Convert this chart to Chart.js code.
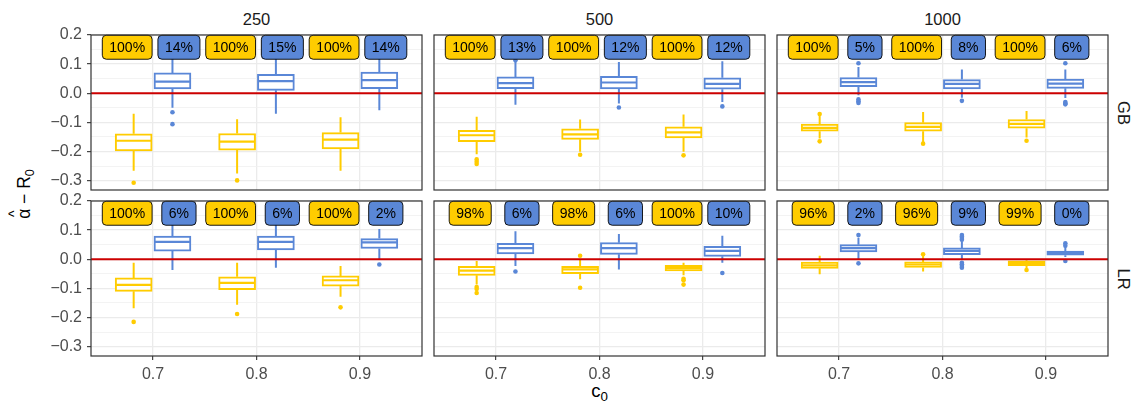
<!DOCTYPE html>
<html><head><meta charset="utf-8">
<script src="https://cdn.jsdelivr.net/npm/chart.js@4.4.1/dist/chart.umd.min.js"></script>
<style>
html,body{margin:0;padding:0;background:#fff;}
#wrap{position:relative;width:1136px;height:404px;overflow:hidden;font-family:"Liberation Sans",Arial,Helvetica,sans-serif;}
#wrap canvas{position:absolute;left:0;top:0;}
.txt{position:absolute;white-space:nowrap;line-height:1;}
.strip{font-size:16.5px;color:#1A1A1A;}
sub{font-size:0.72em;vertical-align:-0.3em;line-height:0;}
.hat{position:relative;display:inline-block;}
.caret{position:absolute;left:50%;top:-0.62em;transform:translateX(-50%);font-size:0.8em;}
</style></head><body>
<div id="wrap">
  <div class="txt strip" style="left:256.5px;top:11px;transform:translateX(-50%)">250</div>
  <div class="txt strip" style="left:599.5px;top:11px;transform:translateX(-50%)">500</div>
  <div class="txt strip" style="left:942.5px;top:11px;transform:translateX(-50%)">1000</div>
  <div class="txt strip" style="left:1124px;top:112.5px;transform:translate(-50%,-50%) rotate(90deg)">GB</div>
  <div class="txt strip" style="left:1124px;top:278.5px;transform:translate(-50%,-50%) rotate(90deg)">LR</div>
  <div class="txt" style="left:25px;top:194px;font-size:17.5px;color:#000;transform:translate(-50%,-50%) rotate(-90deg)"><span class="hat">&#945;<span class="caret">^</span></span> &#8722; R<sub>0</sub></div>
  <div class="txt" style="left:599.5px;top:382px;font-size:18.5px;color:#000;transform:translateX(-50%)">c<sub>0</sub></div>
</div>
<script>
// ---------------- data ----------------
const xCategories = ['0.7', '0.8', '0.9'];
const sampleSizes = ['250', '500', '1000'];
const methods = ['GB', 'LR'];
const yTickValues = [-0.3, -0.2, -0.1, 0.0, 0.1, 0.2];
const yTickLabels = ['\u22120.3', '\u22120.2', '\u22120.1', '0.0', '0.1', '0.2'];
const yMinorValues = [-0.25, -0.15, -0.05, 0.05, 0.15];
const referenceValue = 0;

// box stats per category: [lower whisker, Q1, median, Q3, upper whisker]
const gb250Gold = [[-0.266, -0.198, -0.163, -0.139, -0.070], [-0.275, -0.195, -0.166, -0.138, -0.089], [-0.266, -0.191, -0.159, -0.135, -0.082]];
const gb250GoldOut = [[-0.307], [-0.299], []];
const gb250Blue = [[-0.050, 0.015, 0.040, 0.070, 0.130], [-0.070, 0.010, 0.042, 0.065, 0.130], [-0.058, 0.016, 0.045, 0.073, 0.130]];
const gb250BlueOut = [[-0.065, -0.106], [], []];
const gb250Pct = [['100%', '14%'], ['100%', '15%'], ['100%', '14%']];

const gb500Gold = [[-0.209, -0.166, -0.144, -0.127, -0.081], [-0.201, -0.158, -0.141, -0.122, -0.090], [-0.201, -0.153, -0.134, -0.115, -0.073]];
const gb500GoldOut = [[-0.227, -0.235, -0.243], [-0.211], [-0.213]];
const gb500Blue = [[-0.039, 0.016, 0.035, 0.056, 0.107], [-0.035, 0.015, 0.037, 0.058, 0.107], [-0.030, 0.014, 0.032, 0.053, 0.110]];
const gb500BlueOut = [[0.113], [-0.049], [-0.045]];
const gb500Pct = [['100%', '13%'], ['100%', '12%'], ['100%', '12%']];

const gb1000Gold = [[-0.155, -0.130, -0.119, -0.106, -0.075], [-0.167, -0.130, -0.115, -0.101, -0.064], [-0.152, -0.120, -0.105, -0.090, -0.061]];
const gb1000GoldOut = [[-0.071, -0.165], [-0.173], [-0.163]];
const gb1000Blue = [[-0.007, 0.023, 0.038, 0.054, 0.090], [-0.015, 0.015, 0.032, 0.047, 0.082], [-0.016, 0.017, 0.033, 0.049, 0.082]];
const gb1000BlueOut = [[0.103, -0.021, -0.027, -0.033], [-0.026], [0.103, -0.030, -0.034, -0.038]];
const gb1000Pct = [['100%', '5%'], ['100%', '8%'], ['100%', '6%']];

const lr250Gold = [[-0.168, -0.110, -0.088, -0.064, -0.012], [-0.156, -0.104, -0.081, -0.060, -0.012], [-0.129, -0.092, -0.072, -0.057, -0.023]];
const lr250GoldOut = [[-0.215], [-0.188], [-0.165]];
const lr250Blue = [[-0.037, 0.028, 0.060, 0.080, 0.130], [-0.029, 0.032, 0.060, 0.080, 0.130], [-0.002, 0.037, 0.058, 0.071, 0.104]];
const lr250BlueOut = [[], [], [-0.018]];
const lr250Pct = [['100%', '6%'], ['100%', '6%'], ['100%', '2%']];

const lr500Gold = [[-0.087, -0.055, -0.039, -0.024, -0.006], [-0.069, -0.049, -0.035, -0.024, 0.000], [-0.055, -0.040, -0.030, -0.021, -0.012]];
const lr500GoldOut = [[-0.095, -0.102, -0.116], [0.012, -0.098], [-0.067, -0.072, -0.087]];
const lr500Blue = [[-0.023, 0.018, 0.038, 0.055, 0.096], [-0.035, 0.017, 0.038, 0.057, 0.087], [-0.012, 0.010, 0.029, 0.044, 0.081]];
const lr500BlueOut = [[-0.042], [], [-0.047]];
const lr500Pct = [['98%', '6%'], ['98%', '6%'], ['100%', '10%']];

const lr1000Gold = [[-0.051, -0.031, -0.021, -0.010, 0.012], [-0.042, -0.028, -0.018, -0.009, 0.012], [-0.030, -0.022, -0.013, -0.005, -0.002]];
const lr1000GoldOut = [[], [0.017], [-0.037]];
const lr1000Blue = [[0.000, 0.025, 0.038, 0.050, 0.074], [0.000, 0.016, 0.029, 0.039, 0.062], [0.008, 0.014, 0.021, 0.028, 0.040]];
const lr1000BlueOut = [[0.083, -0.014], [0.083, 0.078, 0.073, 0.067, -0.012, -0.017, -0.023, -0.029], [0.055, 0.046, -0.006]];
const lr1000Pct = [['96%', '2%'], ['96%', '9%'], ['99%', '0%']];

// ---------------- style / layout ----------------
const FONT = '"Liberation Sans", Arial, Helvetica, sans-serif';
const GOLD = '#FFCC00';
const BLUE = '#5A87D7';
const RED = '#CC0000';
const W = 1136, H = 404;
const colLeft = [91, 434, 777], panelW = 331;
const rowTop = [35, 201], panelH = 155;
const Y_AXIS_W = 91, X_AXIS_H = 40;
const X_MIN = 0.4, X_MAX = 3.6, Y_MIN = -0.332, Y_MAX = 0.2;
const DODGE = 0.1875, LABEL_DODGE = 0.25, LABEL_Y = 0.158;

const panels = [
  [0, 0, gb250Gold, gb250GoldOut, gb250Blue, gb250BlueOut, gb250Pct],
  [0, 1, gb500Gold, gb500GoldOut, gb500Blue, gb500BlueOut, gb500Pct],
  [0, 2, gb1000Gold, gb1000GoldOut, gb1000Blue, gb1000BlueOut, gb1000Pct],
  [1, 0, lr250Gold, lr250GoldOut, lr250Blue, lr250BlueOut, lr250Pct],
  [1, 1, lr500Gold, lr500GoldOut, lr500Blue, lr500BlueOut, lr500Pct],
  [1, 2, lr1000Gold, lr1000GoldOut, lr1000Blue, lr1000BlueOut, lr1000Pct]
];

const panelDecor = {
  id: 'panelDecor',
  afterDatasetsDraw(chart, args, opts) {
    const {ctx, scales: {x, y}} = chart;
    ctx.save();
    ctx.font = '14px ' + FONT;
    ctx.textAlign = 'center';
    ctx.textBaseline = 'middle';
    opts.labels.forEach((pair, i) => {
      pair.forEach((txt, g) => {
        const cx = x.getPixelForValue(i + 1 + (g === 0 ? -LABEL_DODGE : LABEL_DODGE));
        const cy = y.getPixelForValue(LABEL_Y);
        const w = ctx.measureText(txt).width + 14, h = 24;
        ctx.beginPath();
        ctx.roundRect(cx - w / 2, cy - h / 2, w, h, 4);
        ctx.fillStyle = g === 0 ? GOLD : BLUE;
        ctx.fill();
        ctx.lineWidth = 0.9;
        ctx.strokeStyle = '#000';
        ctx.stroke();
        ctx.fillStyle = '#000';
        ctx.fillText(txt, cx, cy + 0.5);
      });
    });
    ctx.restore();
  },
  afterDraw(chart) {
    const {ctx, chartArea: a} = chart;
    ctx.save();
    ctx.strokeStyle = '#333333';
    ctx.lineWidth = 1.2;
    ctx.strokeRect(a.left, a.top, a.right - a.left, a.bottom - a.top);
    ctx.restore();
  }
};

const isMajor = v => yTickValues.some(t => Math.abs(t - v) < 1e-9);
const wrap = document.getElementById('wrap');

panels.forEach(([r, c, gold, goldOut, blue, blueOut, pct]) => {
  const cv = document.createElement('canvas');
  cv.width = W; cv.height = H;
  wrap.appendChild(cv);
  const isLeft = c === 0, isBottom = r === 1;
  const goldX = i => i + 1 - DODGE, blueX = i => i + 1 + DODGE;
  const whisk = (stats, xf) => stats.flatMap((s, i) => [
    {x: xf(i), y: s[0]}, {x: xf(i), y: s[1]}, {x: xf(i), y: null},
    {x: xf(i), y: s[3]}, {x: xf(i), y: s[4]}, {x: xf(i), y: null}]);
  const outs = (arr, xf) => arr.flatMap((o, i) => o.map(v => ({x: xf(i), y: v})));
  const meds = (stats, xf) => stats.map((s, i) => ({x: xf(i), y: s[2]}));
  const boxes = (stats, xf) => stats.map((s, i) => ({x: xf(i), y: [s[1], s[3]]}));

  const datasets = [
    {type: 'scatter', data: [{x: X_MIN, y: referenceValue}, {x: X_MAX, y: referenceValue}], showLine: true,
     borderColor: RED, borderWidth: 2, pointRadius: 0, order: 0},
    {type: 'scatter', data: outs(goldOut, goldX), pointRadius: 2.3, pointBackgroundColor: GOLD, pointBorderWidth: 0, order: 1},
    {type: 'scatter', data: outs(blueOut, blueX), pointRadius: 2.3, pointBackgroundColor: BLUE, pointBorderWidth: 0, order: 1},
    {type: 'scatter', data: meds(gold, goldX), pointStyle: 'line', pointRadius: 17.5, pointBorderColor: GOLD, pointBorderWidth: 2.2, order: 2},
    {type: 'scatter', data: meds(blue, blueX), pointStyle: 'line', pointRadius: 17.5, pointBorderColor: BLUE, pointBorderWidth: 2.2, order: 2},
    {type: 'bar', data: boxes(gold, goldX), backgroundColor: '#FFFFFF', borderColor: GOLD, borderWidth: 2,
     borderSkipped: false, barThickness: 37, grouped: false, order: 3},
    {type: 'bar', data: boxes(blue, blueX), backgroundColor: '#FFFFFF', borderColor: BLUE, borderWidth: 2,
     borderSkipped: false, barThickness: 37, grouped: false, order: 3},
    {type: 'scatter', data: whisk(gold, goldX), showLine: true, spanGaps: false, borderColor: GOLD, borderWidth: 2, pointRadius: 0, order: 4},
    {type: 'scatter', data: whisk(blue, blueX), showLine: true, spanGaps: false, borderColor: BLUE, borderWidth: 2, pointRadius: 0, order: 4}
  ];

  new Chart(cv, {
    type: 'bar',
    data: {datasets},
    plugins: [panelDecor],
    options: {
      responsive: false, animation: false, devicePixelRatio: 1, events: [],
      layout: {
        autoPadding: false,
        padding: {
          left: colLeft[c] - (isLeft ? Y_AXIS_W : 0),
          right: W - (colLeft[c] + panelW),
          top: rowTop[r],
          bottom: H - (rowTop[r] + panelH) - (isBottom ? X_AXIS_H : 0)
        }
      },
      plugins: {legend: {display: false}, tooltip: {enabled: false}, panelDecor: {labels: pct}},
      scales: {
        x: {
          type: 'linear', min: X_MIN, max: X_MAX, offset: false,
          afterBuildTicks: s => { s.ticks = xCategories.map((_, i) => ({value: i + 1})); },
          afterFit: s => { s.height = isBottom ? X_AXIS_H : 0; },
          ticks: {display: isBottom, autoSkip: false, maxRotation: 0, padding: 5, color: '#4D4D4D',
                  font: {family: FONT, size: 16}, callback: (v, i) => xCategories[i]},
          grid: {offset: false, color: '#EBEBEB', lineWidth: 1.3, drawTicks: isBottom, tickLength: 4, tickColor: '#333333', tickWidth: 1.1},
          border: {display: false}
        },
        y: {
          type: 'linear', min: Y_MIN, max: Y_MAX,
          afterBuildTicks: s => { s.ticks = [...yTickValues, ...yMinorValues].sort((a, b) => a - b).map(v => ({value: v})); },
          afterFit: s => { s.width = isLeft ? Y_AXIS_W : 0; },
          ticks: {display: isLeft, autoSkip: false, padding: 5, color: '#4D4D4D', font: {family: FONT, size: 16},
                  callback: v => { const k = yTickValues.findIndex(t => Math.abs(t - v) < 1e-9); return k >= 0 ? yTickLabels[k] : ''; }},
          grid: {
            offset: false,
            color: ctx => isMajor(ctx.tick.value) ? '#EBEBEB' : '#F0F0F0',
            lineWidth: ctx => isMajor(ctx.tick.value) ? 1.3 : 0.8,
            drawTicks: isLeft, tickLength: 4,
            tickColor: ctx => isMajor(ctx.tick.value) ? '#333333' : 'rgba(0,0,0,0)', tickWidth: 1.1
          },
          border: {display: false}
        }
      }
    }
  });
});
</script>
</body></html>
